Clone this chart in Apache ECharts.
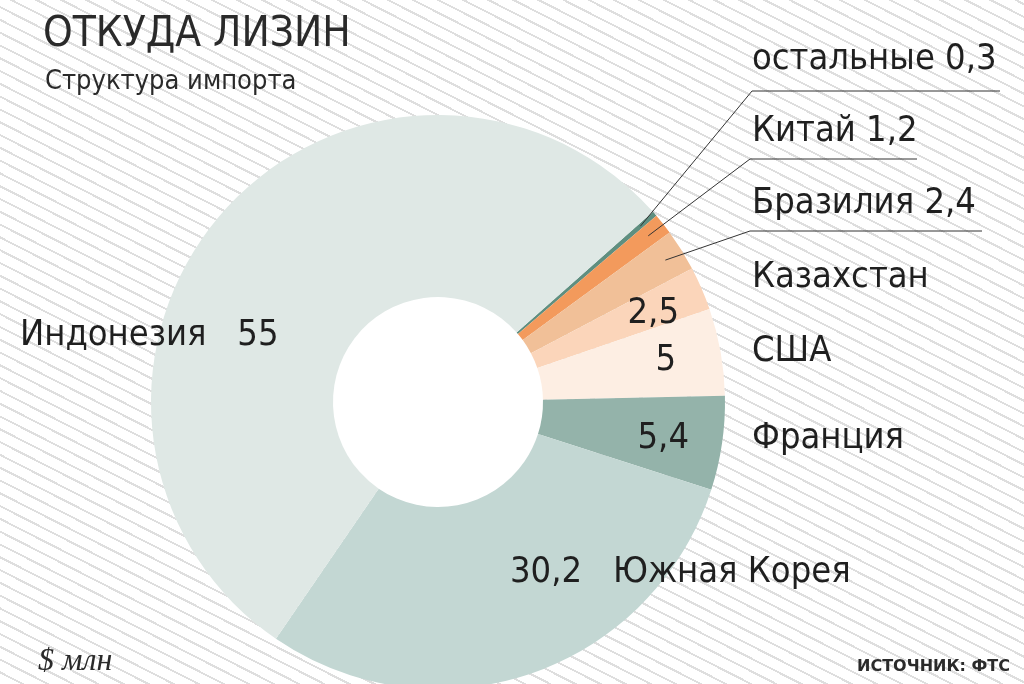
<!DOCTYPE html>
<html>
<head>
<meta charset="utf-8">
<script src="https://cdn.jsdelivr.net/npm/echarts@6/dist/echarts.min.js"></script>
<style>
html,body{margin:0;padding:0;}
#wrap{position:relative;width:1024px;height:684px;overflow:hidden;
 background:repeating-linear-gradient(27deg,#ffffff 0px,#ffffff 9.4px,#dedede 9.4px,#dedede 11.4px);}
#chart{position:absolute;left:0;top:0;width:1024px;height:684px;}
</style>
</head>
<body>
<div id="wrap"><div id="chart"></div></div>
<script>
// ---- data ----
const categories = ['остальные', 'Китай', 'Бразилия', 'Казахстан', 'США', 'Франция', 'Южная Корея', 'Индонезия'];
const values = [0.3, 1.2, 2.4, 2.5, 5, 5.4, 30.2, 55];
const titleText = 'ОТКУДА ЛИЗИН';
const subtitleText = 'Структура импорта';
const unitText = '$ млн';
const sourceText = 'ИСТОЧНИК: ФТС';

// ---- styles ----
const colors = ['#5f8f80', '#f39a5c', '#f1c098', '#fbd5ba', '#fdeee3', '#94b3aa', '#c3d7d3', '#dfe8e5'];
const FONT = '"Liberation Sans Narrow", "DejaVu Sans Condensed", "Roboto", sans-serif';
const LABEL_SIZE = 36;
const CX = 438, CY = 402, R0 = 105, R1 = 287, START = 41.5;

const fmt = v => String(v).replace('.', ',');
const total = values.reduce((a, b) => a + b, 0);
const cum = [];
values.reduce((acc, v, i) => { cum[i] = acc; return acc + v; }, 0);
function innerPoint(i, r) {
  const mid = (START - (cum[i] + values[i] / 2) / total * 360) * Math.PI / 180;
  return [CX + r * Math.cos(mid), CY - r * Math.sin(mid)];
}

// outer name labels: position layout per slice
const nameLayout = {
  0: { x: 752, y: 60, line: [752, 91, 1000] },
  1: { x: 752, y: 132, line: [750, 159, 917] },
  2: { x: 752, y: 204, line: [750, 231, 982] },
  3: { x: 752, y: 278 },
  4: { x: 752, y: 352 },
  5: { x: 752, y: 439 },
  6: { x: 510, y: 573 },
  7: { x: 20, y: 336 }
};
const valueLayout = {
  3: { x: 679, y: 314 },
  4: { x: 676, y: 361 },
  5: { x: 689, y: 439 }
};
function nameText(i) {
  const n = categories[i], v = fmt(values[i]);
  if (i <= 2) return n + ' ' + v;
  if (i === 6) return v + '   ' + n;
  if (i === 7) return n + '   ' + v;
  return n;
}

const chart = echarts.init(document.getElementById('chart'), null, { renderer: 'canvas' });
chart.setOption({
  backgroundColor: 'transparent',
  animation: false,
  graphic: [
    { type: 'circle', silent: true, z: 0, shape: { cx: CX, cy: CY, r: R0 + 1 }, style: { fill: '#ffffff' } }
  ],
  title: [
    { text: titleText, left: 38, top: 9, textStyle: { fontFamily: FONT, fontSize: 42, fontWeight: 'normal', color: '#2a2a2a' } },
    { text: subtitleText, left: 40, top: 63, textStyle: { fontFamily: FONT, fontSize: 27, fontWeight: 'normal', color: '#2a2a2a' } },
    { text: unitText, left: 33, top: 641, textStyle: { fontFamily: '"Liberation Serif", "DejaVu Serif", serif', fontStyle: 'italic', fontSize: 32, fontWeight: 'normal', color: '#2a2a2a' } },
    { text: sourceText, right: 9, top: 654, textStyle: { fontFamily: '"DejaVu Sans", sans-serif', fontSize: 16, fontWeight: 'bold', color: '#2a2a2a' } }
  ],
  series: [
    {
      type: 'pie',
      center: [CX, CY],
      radius: [R0, R1],
      startAngle: START,
      clockwise: true,
      silent: true,
      avoidLabelOverlap: false,
      z: 2,
      itemStyle: { borderWidth: 0 },
      data: categories.map((c, i) => ({
        name: c, value: values[i],
        itemStyle: { color: colors[i] },
        label: { show: valueLayout[i] !== undefined }
      })),
      label: {
        position: 'inside',
        formatter: p => fmt(p.value),
        fontFamily: FONT, fontSize: LABEL_SIZE, color: '#1f1f1f'
      },
      labelLine: { show: false },
      labelLayout: p => {
        const L = valueLayout[p.dataIndex];
        if (!L) return {};
        return { x: L.x, y: L.y, align: 'right', verticalAlign: 'middle' };
      }
    },
    {
      type: 'pie',
      center: [CX, CY],
      radius: [R0, R1],
      startAngle: START,
      clockwise: true,
      silent: true,
      avoidLabelOverlap: false,
      z: 3,
      itemStyle: { color: 'rgba(0,0,0,0)', borderWidth: 0 },
      data: categories.map((c, i) => ({
        name: c, value: values[i],
        labelLine: { show: !!nameLayout[i].line }
      })),
      label: {
        position: 'outside',
        formatter: p => nameText(p.dataIndex),
        fontFamily: FONT, fontSize: LABEL_SIZE, color: '#1f1f1f'
      },
      labelLine: { show: true, lineStyle: { color: '#333333', width: 1 } },
      labelLayout: p => {
        const L = nameLayout[p.dataIndex];
        const out = { x: L.x, y: L.y, align: 'left', verticalAlign: 'middle' };
        if (L.line) {
          out.labelLinePoints = [innerPoint(p.dataIndex, 268), [L.line[0], L.line[1]], [L.line[2], L.line[1]]];
        }
        return out;
      }
    }
  ]
});
</script>
</body>
</html>
